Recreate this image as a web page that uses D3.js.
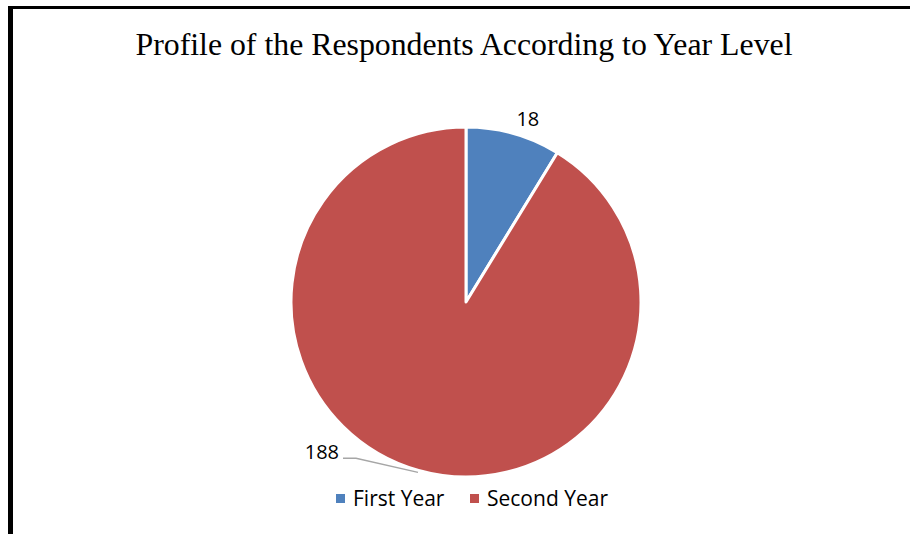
<!DOCTYPE html>
<html>
<head>
<meta charset="utf-8">
<script src="https://cdn.jsdelivr.net/npm/d3@7"></script>
<style>
  body { margin: 0; background: #fff; }
</style>
</head>
<body>
<div id="chart"></div>
<script>
// data
const categories = ['First Year', 'Second Year']
const values = [18, 188]
const colors = ['#4F81BD', '#C0504D']

const width = 910
const height = 534
const cx = 466
const cy = 302
const radius = 175

const svg = d3
  .select('#chart')
  .append('svg')
  .attr('width', width)
  .attr('height', height)

// frame lines (top + left)
svg.append('rect').attr('x', 8).attr('y', 6).attr('width', 902).attr('height', 3).attr('fill', '#000')
svg.append('rect').attr('x', 8).attr('y', 6).attr('width', 5).attr('height', 528).attr('fill', '#000')

svg
  .append('text')
  .text('Profile of the Respondents According to Year Level')
  .attr('x', 464)
  .attr('y', 55)
  .attr('text-anchor', 'middle')
  .attr('font-family', '"Liberation Serif", "Times New Roman", serif')
  .attr('font-size', 31.8)
  .attr('fill', '#000')

const data = categories.map((c, i) => ({ category: c, value: values[i] }))

const colorScale = d3.scaleOrdinal().domain(categories).range(colors)

const pie = d3.pie().value(d => d.value).sort(null)

const arc = d3.arc().innerRadius(0).outerRadius(radius)

const g = svg.append('g').attr('transform', 'translate(' + cx + ',' + cy + ')')

const slices = pie(data)

g.selectAll('path')
  .data(slices)
  .enter()
  .append('path')
  .attr('d', arc)
  .attr('fill', d => colorScale(d.data.category))
  .attr('stroke', '#fff')
  .attr('stroke-width', 3)
  .attr('stroke-linejoin', 'round')

const labelFont = '"Open Sans", "Noto Sans", sans-serif'

// small slice: label just outside
const outerArc = d3.arc().innerRadius(radius + 20).outerRadius(radius + 20)
const first = slices[0]
const p1 = outerArc.centroid(first)
g.append('text')
  .text(first.data.value)
  .attr('x', p1[0] + 9)
  .attr('y', p1[1] + 5)
  .attr('dy', '0.35em')
  .attr('text-anchor', 'middle')
  .attr('font-family', labelFont)
  .attr('font-size', 20)
  .attr('fill', '#000')

// big slice: label with leader line
const second = slices[1]
const mid = (second.startAngle + second.endAngle) / 2
const edge = [Math.sin(mid) * (radius + 2), -Math.cos(mid) * (radius + 2)]
const elbow = [edge[0] - 62, edge[1] - 14]
const tail = [elbow[0] - 13, elbow[1]]
g.append('polyline')
  .attr('points', [edge, elbow, tail].map(p => p.join(',')).join(' '))
  .attr('fill', 'none')
  .attr('stroke', '#A6A6A6')
  .attr('stroke-width', 1.5)
g.append('text')
  .text(second.data.value)
  .attr('x', tail[0] - 4)
  .attr('y', tail[1] + 1)
  .attr('text-anchor', 'end')
  .attr('font-family', labelFont)
  .attr('font-size', 20)
  .attr('fill', '#000')

// legend
const legendX = d3.scaleOrdinal().domain(categories).range([336, 470])
const legend = svg
  .selectAll('.legend')
  .data(categories)
  .enter()
  .append('g')
  .attr('class', 'legend')
  .attr('transform', d => 'translate(' + legendX(d) + ',' + 494 + ')')

legend
  .append('rect')
  .attr('width', 9)
  .attr('height', 9)
  .attr('fill', d => colorScale(d))

legend
  .append('text')
  .text(d => d)
  .attr('x', 17)
  .attr('y', 12)
  .attr('font-family', labelFont)
  .attr('font-size', 21)
  .attr('fill', '#000')
</script>
</body>
</html>
